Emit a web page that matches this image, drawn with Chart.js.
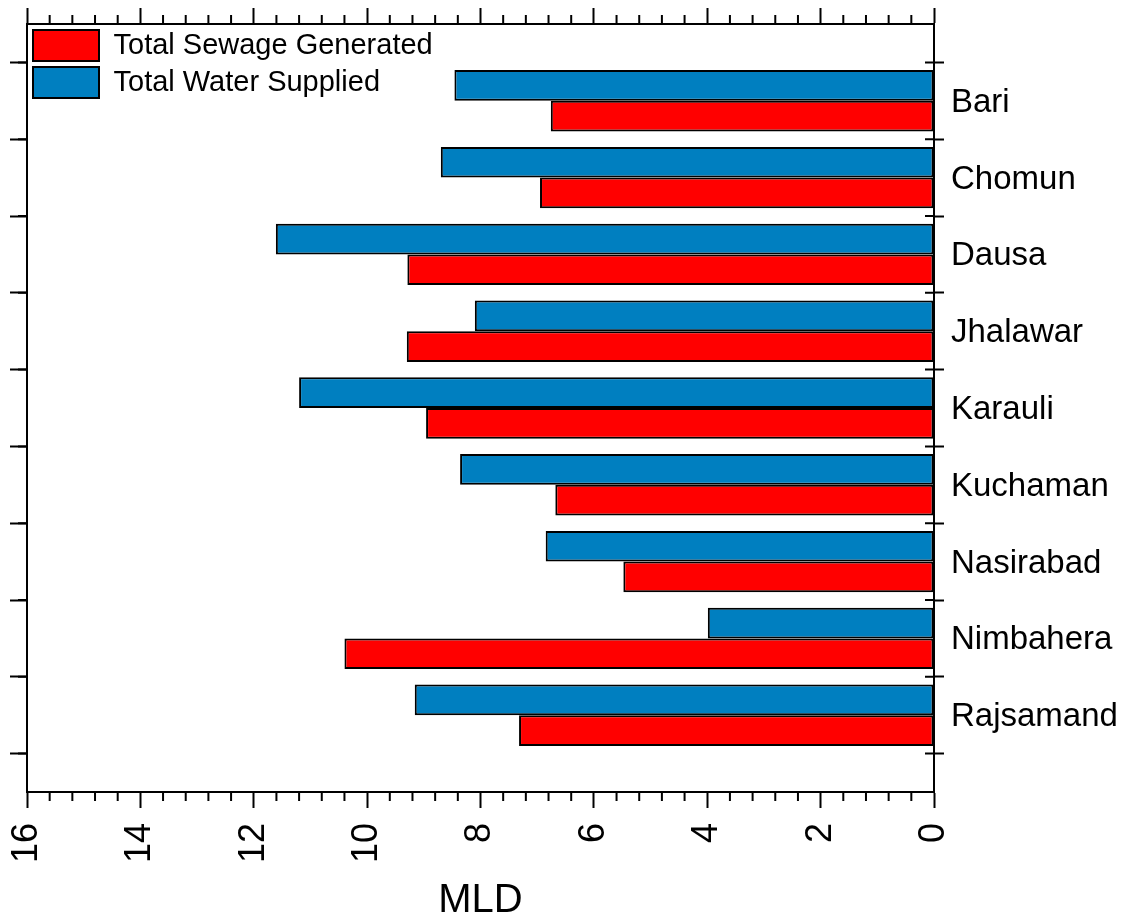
<!DOCTYPE html>
<html lang="en">
  <head>
    <meta charset="UTF-8" />
    <script src="https://cdn.jsdelivr.net/npm/chart.js"></script>
    <style>
      body { margin: 0; background: #fff; }
      #wrap { width: 1128px; height: 922px; }
    </style>
  </head>
  <body>
    <div id="wrap"><canvas id="mldChart"></canvas></div>

    <script>
      // data (MLD)
      const towns = ["Bari", "Chomun", "Dausa", "Jhalawar", "Karauli", "Kuchaman", "Nasirabad", "Nimbahera", "Rajsamand"];
      const waterSupplied = [8.46, 8.70, 11.61, 8.10, 11.20, 8.36, 6.85, 3.99, 9.16];
      const sewageGenerated = [6.76, 6.95, 9.29, 9.30, 8.96, 6.68, 5.48, 10.40, 7.32];
      const xTicks = [0, 2, 4, 6, 8, 10, 12, 14, 16];

      Chart.defaults.font.family = "'Liberation Sans', Arial, sans-serif";
      Chart.defaults.color = "#000";

      // minor ticks + the inner half of the crossing ticks on the right axis
      const extraTicks = {
        id: "extraTicks",
        afterUpdate(chart) {
          // "chartArea" legends come out at top 0, move it into the plot box
          const lg = chart.legend;
          const dy = chart.chartArea.top - lg.top;
          lg.top += dy;
          lg.bottom += dy;
          lg.legendHitBoxes.forEach((h) => { h.top += dy; });
        },
        afterDraw(chart) {
          const { ctx, chartArea: a, scales } = chart;
          const x = scales.x, y = scales.y;
          ctx.save();
          ctx.strokeStyle = "#000";
          ctx.lineWidth = 2;
          ctx.beginPath();
          for (let i = 0; i <= 40; i++) {
            if (i % 5 === 0) continue;
            const px = x.getPixelForValue(i * 0.4);
            ctx.moveTo(px, a.bottom); ctx.lineTo(px, a.bottom + 9);
            ctx.moveTo(px, a.top); ctx.lineTo(px, a.top - 9);
          }
          for (let k = 0; k <= towns.length; k++) {
            const py = y.getPixelForValue(k - 0.5);
            ctx.moveTo(a.left, py); ctx.lineTo(a.left - 9, py);
            ctx.moveTo(a.right, py); ctx.lineTo(a.right - 9, py);
          }
          ctx.stroke();
          ctx.restore();
        },
      };

      const tickGrid = (len, extra) => Object.assign({
        drawOnChartArea: false,
        tickLength: len,
        tickWidth: 2,
        tickColor: "#000",
      }, extra || {});
      const axisBorder = { color: "#000", width: 2 };

      new Chart(document.getElementById("mldChart"), {
        type: "bar",
        data: {
          datasets: [
            {
              label: "Total Water Supplied",
              data: waterSupplied.map((v, i) => ({ x: v, y: i })),
              backgroundColor: "#007fc0",
              borderColor: "#000",
              borderWidth: 2,
              borderSkipped: false,
            },
            {
              label: "Total Sewage Generated",
              data: sewageGenerated.map((v, i) => ({ x: v, y: i })),
              backgroundColor: "#ff0000",
              borderColor: "#000",
              borderWidth: 2,
              borderSkipped: false,
            },
          ],
        },
        options: {
          indexAxis: "y",
          responsive: true,
          maintainAspectRatio: false,
          animation: false,
          layout: { padding: 0 },
          datasets: { bar: { categoryPercentage: 0.8, barPercentage: 1.0 } },
          scales: {
            x: {
              type: "linear",
              position: "bottom",
              min: 0,
              max: 16,
              reverse: true,
              afterBuildTicks: (s) => { s.ticks = xTicks.map((v) => ({ value: v })); },
              ticks: { minRotation: 90, maxRotation: 90, autoSkip: false, padding: 15, font: { size: 36 } },
              grid: tickGrid(16),
              border: axisBorder,
              title: { display: true, text: "MLD", font: { size: 40 }, padding: { top: 0, bottom: -3 } },
              afterFit: (s) => { s.height = 130; },
            },
            x2: {
              type: "linear",
              axis: "x",
              position: "top",
              min: 0,
              max: 16,
              reverse: true,
              afterBuildTicks: (s) => { s.ticks = xTicks.map((v) => ({ value: v })); },
              ticks: { display: false },
              grid: tickGrid(16),
              border: axisBorder,
              afterFit: (s) => { s.height = 24; },
            },
            y: {
              type: "linear",
              position: "right",
              offset: false,
              min: -1,
              max: 9,
              reverse: true,
              ticks: {
                stepSize: 1,
                autoSkip: false,
                padding: 7,
                labelOffset: 2,
                font: { size: 33 },
                callback: (v) => towns[v] || "",
              },
              grid: tickGrid(10, { offset: true }),
              border: axisBorder,
              afterFit: (s) => {
                s.width = 194;
                s.paddingTop = 0;
                s.paddingBottom = 0;
              },
            },
            y2: {
              type: "linear",
              axis: "y",
              position: "left",
              offset: false,
              min: -1,
              max: 9,
              reverse: true,
              ticks: { display: false, stepSize: 1 },
              grid: tickGrid(17),
              border: axisBorder,
              afterFit: (s) => { s.width = 27; },
            },
          },
          plugins: {
            tooltip: { enabled: false },
            legend: {
              position: "chartArea",
              align: "start",
              reverse: true,
              labels: {
                boxWidth: 66,
                boxHeight: 31,
                padding: 6,
                color: "#000",
                font: { size: 29 },
              },
            },
          },
        },
        plugins: [extraTicks],
      });
    </script>
  </body>
</html>
